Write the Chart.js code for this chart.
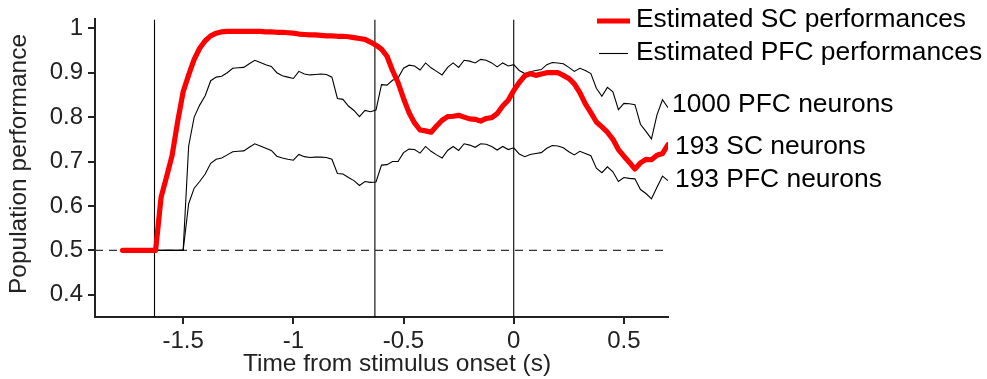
<!DOCTYPE html>
<html>
<head>
<meta charset="utf-8">
<script src="https://cdn.jsdelivr.net/npm/chart.js@4.4.1/dist/chart.umd.min.js"></script>
<style>
  html, body { margin: 0; padding: 0; background: #fff; }
</style>
</head>
<body>
<canvas id="chart" width="987" height="379"></canvas>
<script>
// time bins (s from stimulus onset)
const times = [-1.8, -1.775, -1.75, -1.725, -1.7, -1.675, -1.65, -1.625, -1.6, -1.575,
  -1.55, -1.525, -1.5, -1.475, -1.45, -1.425, -1.4, -1.375, -1.35, -1.325,
  -1.3, -1.275, -1.25, -1.225, -1.2, -1.175, -1.15, -1.125, -1.1, -1.075,
  -1.05, -1.025, -1, -0.975, -0.95, -0.925, -0.9, -0.875, -0.85, -0.825,
  -0.8, -0.775, -0.75, -0.725, -0.7, -0.675, -0.65, -0.625, -0.6, -0.575,
  -0.55, -0.525, -0.5, -0.475, -0.45, -0.425, -0.4, -0.375, -0.35, -0.325,
  -0.3, -0.275, -0.25, -0.225, -0.2, -0.175, -0.15, -0.125, -0.1, -0.075,
  -0.05, -0.025, 0, 0.025, 0.05, 0.075, 0.1, 0.125, 0.15, 0.175,
  0.2, 0.225, 0.25, 0.275, 0.3, 0.325, 0.35, 0.375, 0.4, 0.425,
  0.45, 0.475, 0.5, 0.525, 0.55, 0.575, 0.6, 0.625, 0.65, 0.675,
  0.7];

// 193 SC neurons
const scPerf = [null, 0.5, 0.5, 0.5, 0.5, 0.5, 0.5, 0.5, 0.62, 0.666,
  0.714, 0.79, 0.857, 0.895, 0.93, 0.955, 0.972, 0.983, 0.989, 0.992,
  0.993, 0.993, 0.993, 0.993, 0.993, 0.993, 0.993, 0.992, 0.992, 0.991,
  0.991, 0.99, 0.989, 0.987, 0.986, 0.985, 0.985, 0.984, 0.983, 0.983,
  0.982, 0.982, 0.981, 0.979, 0.977, 0.975, 0.969, 0.962, 0.953, 0.937,
  0.905, 0.878, 0.842, 0.81, 0.787, 0.771, 0.769, 0.766, 0.78, 0.793,
  0.801, 0.802, 0.804, 0.8, 0.796, 0.795, 0.791, 0.797, 0.799, 0.808,
  0.825, 0.838, 0.86, 0.878, 0.893, 0.898, 0.894, 0.897, 0.9, 0.9,
  0.9, 0.894, 0.887, 0.875, 0.855, 0.83, 0.81, 0.789, 0.778, 0.766,
  0.75, 0.727, 0.712, 0.698, 0.683, 0.697, 0.705, 0.704, 0.714, 0.718,
  0.738];

// 1000 PFC neurons
const pfc1000 = [null, null, null, null, null, null, null, 0.5, 0.5, 0.5,
  0.5, 0.5, 0.5, 0.735, 0.8, 0.827, 0.848, 0.882, 0.89, 0.892,
  0.9, 0.91, 0.911, 0.912, 0.92, 0.928, 0.923, 0.918, 0.914, 0.9,
  0.893, 0.89, 0.887, 0.903, 0.897, 0.895, 0.896, 0.897, 0.896, 0.89,
  0.842, 0.84, 0.825, 0.815, 0.801, 0.815, 0.812, 0.816, 0.873, 0.872,
  0.883, 0.888, 0.91, 0.917, 0.915, 0.906, 0.922, 0.911, 0.903, 0.895,
  0.912, 0.922, 0.912, 0.928, 0.926, 0.922, 0.93, 0.928, 0.922, 0.913,
  0.922, 0.915, 0.918, 0.905, 0.898, 0.902, 0.905, 0.907, 0.918, 0.923,
  0.922, 0.92, 0.912, 0.903, 0.91, 0.905, 0.898, 0.865, 0.847, 0.867,
  0.857, 0.817, 0.831, 0.83, 0.828, 0.784, 0.768, 0.751, 0.805, 0.839,
  0.821];

// 193 PFC neurons
const pfc193 = [null, null, null, null, null, null, null, 0.5, 0.5, 0.5,
  0.5, 0.5, 0.5, 0.605, 0.64, 0.655, 0.672, 0.696, 0.705, 0.708,
  0.715, 0.722, 0.723, 0.724, 0.732, 0.74, 0.735, 0.73, 0.725, 0.712,
  0.708, 0.705, 0.703, 0.716, 0.711, 0.709, 0.71, 0.71, 0.709, 0.705,
  0.673, 0.672, 0.664, 0.657, 0.646, 0.655, 0.653, 0.654, 0.692, 0.693,
  0.7, 0.7, 0.72, 0.728, 0.727, 0.719, 0.734, 0.723, 0.715, 0.708,
  0.725, 0.734, 0.725, 0.74, 0.737, 0.732, 0.74, 0.739, 0.734, 0.726,
  0.734, 0.727, 0.731, 0.717, 0.711, 0.716, 0.718, 0.72, 0.73, 0.736,
  0.735, 0.731, 0.722, 0.715, 0.723, 0.718, 0.713, 0.685, 0.675, 0.688,
  0.677, 0.655, 0.664, 0.662, 0.661, 0.637, 0.628, 0.616, 0.642, 0.667,
  0.657];

const eventTimes = [-1.63, -0.63, 0];
const chanceLevel = 0.5;
const xRange = [-1.9, 0.7];
const yRange = [0.35, 1.02];
const xTicks = [-1.5, -1, -0.5, 0, 0.5];
const yTicks = [0.4, 0.5, 0.6, 0.7, 0.8, 0.9, 1];
const legendLabels = ['Estimated SC performances', 'Estimated PFC performances'];
const curveLabels = ['1000 PFC neurons', '193 SC neurons', '193 PFC neurons'];
const axisTitles = ['Time from stimulus onset (s)', 'Population performance'];

const FONT = '"Liberation Sans", Arial, Helvetica, sans-serif';
const INK = '#222';

const toPoints = (vals) => times.map((t, i) => ({ x: t, y: vals[i] }));

const lineStyle = (color, width) => ({
  borderColor: color,
  borderWidth: width,
  pointRadius: 0,
  tension: 0,
  fill: false,
  spanGaps: false
});

const datasets = [
  { data: toPoints(scPerf), ...lineStyle('#ff0000', 5.2), borderJoinStyle: 'round', borderCapStyle: 'round' },
  { data: toPoints(pfc1000), ...lineStyle('#000', 1.1) },
  { data: toPoints(pfc193), ...lineStyle('#000', 1.1) },
  {
    data: [{ x: xRange[0], y: chanceLevel }, { x: xRange[1], y: chanceLevel }],
    ...lineStyle('#333', 1.1),
    borderDash: [8, 6]
  },
  ...eventTimes.map((t) => ({
    data: [{ x: t, y: yRange[0] }, { x: t, y: yRange[1] }],
    ...lineStyle('#000', 1.1)
  }))
];

// legend, curve names and axis titles
const annotations = {
  id: 'annotations',
  afterDraw(chart) {
    const { ctx } = chart;
    ctx.save();
    ctx.lineCap = 'butt';

    ctx.strokeStyle = '#ff0000';
    ctx.lineWidth = 5;
    ctx.beginPath();
    ctx.moveTo(597, 21);
    ctx.lineTo(630, 21);
    ctx.stroke();

    ctx.strokeStyle = '#000';
    ctx.lineWidth = 1.1;
    ctx.beginPath();
    ctx.moveTo(599, 53.5);
    ctx.lineTo(628, 53.5);
    ctx.stroke();

    ctx.fillStyle = '#000';
    ctx.font = '26.4px ' + FONT;
    ctx.textAlign = 'left';
    ctx.textBaseline = 'alphabetic';
    ctx.fillText(legendLabels[0], 636, 27);
    ctx.fillText(legendLabels[1], 636, 60);

    ctx.fillText(curveLabels[0], 672, 112);
    ctx.fillText(curveLabels[1], 675, 153.5);
    ctx.fillText(curveLabels[2], 675, 187);

    ctx.fillStyle = INK;
    ctx.font = '24.5px ' + FONT;
    ctx.textAlign = 'center';
    ctx.fillText(axisTitles[0], 397, 371);

    ctx.translate(26, 164);
    ctx.rotate(-Math.PI / 2);
    ctx.fillText(axisTitles[1], 0, 0);
    ctx.restore();
  }
};

const axisGrid = {
  display: true,
  drawOnChartArea: false,
  drawTicks: true,
  tickLength: 7,
  color: INK,
  lineWidth: 2
};

new Chart(document.getElementById('chart'), {
  type: 'line',
  data: { datasets },
  plugins: [annotations],
  options: {
    responsive: false,
    animation: false,
    events: [],
    layout: { padding: { top: 15, right: 319, left: 0, bottom: 0 } },
    plugins: { legend: { display: false }, tooltip: { enabled: false } },
    scales: {
      x: {
        type: 'linear',
        min: xRange[0],
        max: xRange[1],
        afterBuildTicks: (s) => { s.ticks = xTicks.map((v) => ({ value: v })); },
        afterFit: (s) => { s.height = 62; },
        ticks: {
          autoSkip: false,
          maxRotation: 0,
          padding: 3,
          color: INK,
          font: { family: FONT, size: 24 },
          callback: (v) => String(v)
        },
        grid: axisGrid,
        border: { display: true, color: INK, width: 2 }
      },
      y: {
        type: 'linear',
        min: yRange[0],
        max: yRange[1],
        afterBuildTicks: (s) => { s.ticks = yTicks.map((v) => ({ value: v })); },
        afterFit: (s) => { s.width = 95; },
        ticks: {
          padding: 5,
          color: INK,
          font: { family: FONT, size: 24 },
          callback: (v) => String(v)
        },
        grid: axisGrid,
        border: { display: true, color: INK, width: 2 }
      }
    }
  }
});
</script>
</body>
</html>
